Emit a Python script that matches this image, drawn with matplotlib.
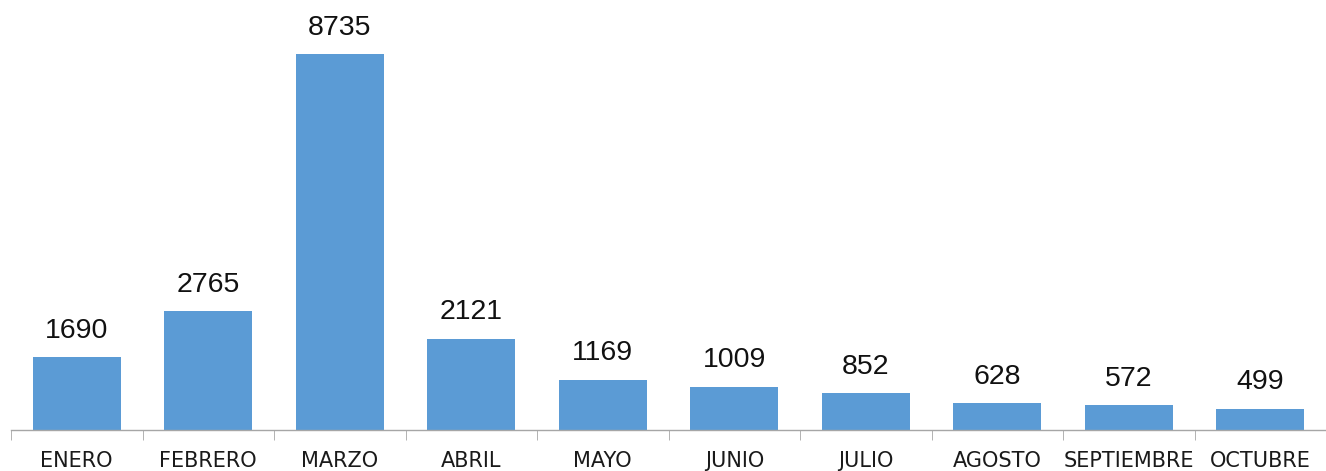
import numpy as np
import matplotlib.pyplot as plt
from matplotlib.ticker import FixedLocator

meses = ["ENERO", "FEBRERO", "MARZO", "ABRIL", "MAYO", "JUNIO",
         "JULIO", "AGOSTO", "SEPTIEMBRE", "OCTUBRE"]
valores = [1690, 2765, 8735, 2121, 1169, 1009, 852, 628, 572, 499]

fig = plt.figure(figsize=(13.26, 4.71), dpi=100)
ax = fig.add_axes([11 / 1326, 41 / 471, 1 - 11 / 1326, 430 / 471])

x = np.arange(len(meses))
bars = ax.bar(x, valores, width=0.67, color="#5B9BD5")

for b, v in zip(bars, valores):
    ax.text(b.get_x() + b.get_width() / 2, v + 310, str(v),
            ha="center", va="bottom", fontsize=20.5, family="Liberation Sans", color="#111111")

ax.set_xlim(-0.5, len(meses) - 0.5)
ax.set_ylim(0, 10000)
ax.set_xticks(x)
ax.set_xticklabels(meses, fontsize=15, family="DejaVu Sans", color="#1a1a1a")
ax.tick_params(axis="x", which="major", length=0, pad=15)
ax.xaxis.set_minor_locator(FixedLocator(np.arange(-0.5, len(meses), 1.0)))
ax.tick_params(axis="x", which="minor", length=7, color="#A6A6A6", direction="out")
ax.set_yticks([])
for s in ["top", "right", "left"]:
    ax.spines[s].set_visible(False)
ax.spines["bottom"].set_color("#A6A6A6")
ax.spines["bottom"].set_linewidth(1.0)

fig.savefig("out.png", dpi=100)
